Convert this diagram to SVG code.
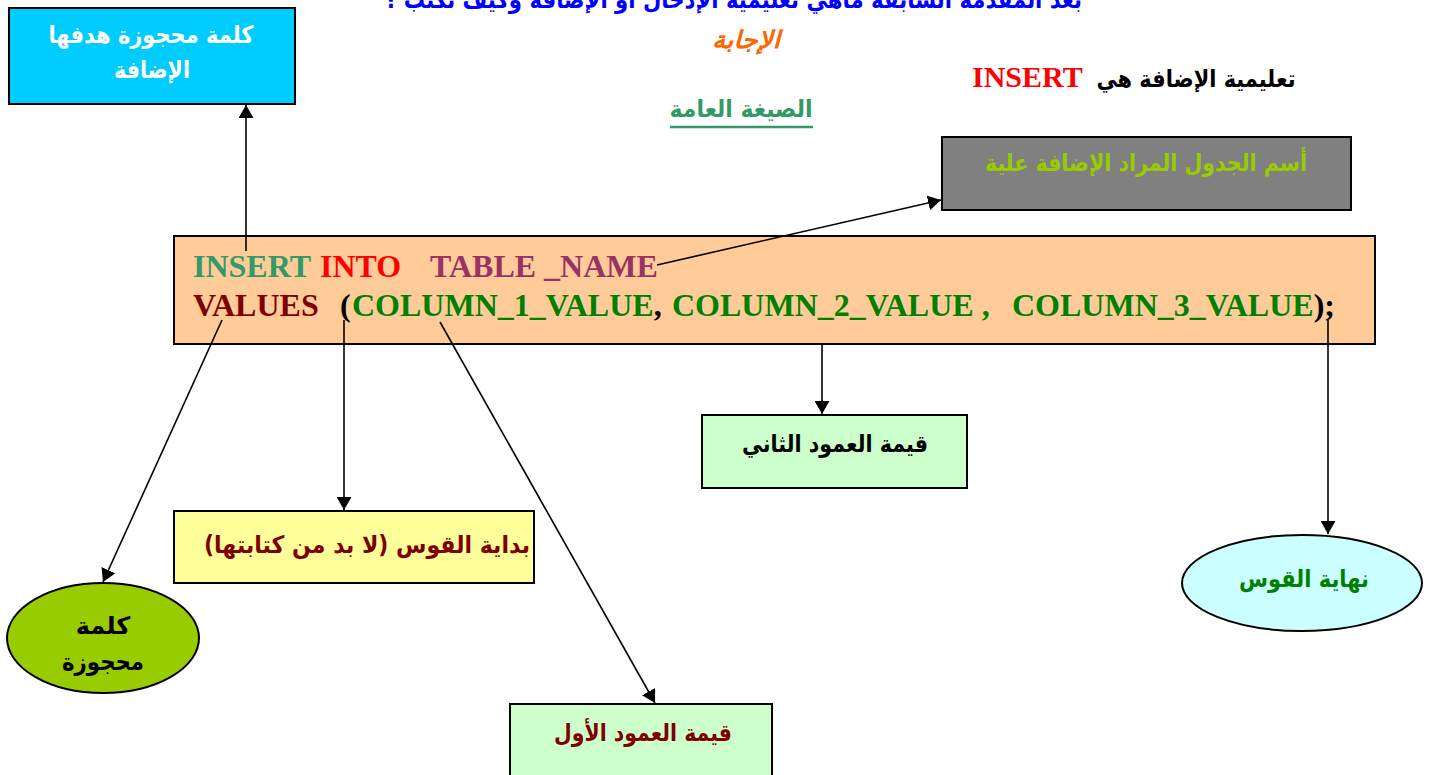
<svg xmlns="http://www.w3.org/2000/svg" width="1436" height="775" viewBox="0 0 1436 775">
  <defs>
    <marker id="arrow" viewBox="0 0 13 15" refX="13" refY="7.5" markerWidth="13" markerHeight="15" markerUnits="userSpaceOnUse" orient="auto">
      <path d="M0,0 L13,7.5 L0,15 z" fill="#000"/>
    </marker>
    <style>
      .ar { font-family: "DejaVu Sans", "Noto Sans", sans-serif; font-weight: bold; direction: rtl; unicode-bidi: embed; text-anchor: middle; }
      .code { font-family: "Liberation Serif", "Times New Roman", serif; font-weight: bold; font-size: 32px; }
      .box { stroke: #000; stroke-width: 2; }
      .conn { stroke: #000; stroke-width: 1.6; fill: none; marker-end: url(#arrow); }
    </style>
  </defs>
  <rect width="1436" height="775" fill="#fff"/>

  <!-- heading lines -->
  <g id="title">
    <text class="ar" x="733" y="8" font-size="25" fill="#0000FF" textLength="698" lengthAdjust="spacingAndGlyphs">بعد المقدمة السابقة ماهي تعليمية الإدخال أو الإضافة وكيف تكتب ؟</text>
    <text class="ar" x="746" y="48" font-size="24" fill="#FF6600" font-style="italic" textLength="68" lengthAdjust="spacingAndGlyphs">الإجابة</text>
  </g>
  <g id="insert-note">
    <text class="ar" x="1196" y="87" font-size="24" fill="#000" textLength="199" lengthAdjust="spacingAndGlyphs">تعليمية الإضافة هي</text>
    <text class="code" x="972" y="87" fill="#FF0000" style="font-size:30px">INSERT</text>
  </g>
  <g id="syntax-label">
    <text class="ar" x="741" y="117" font-size="24" fill="#339966" textLength="143" lengthAdjust="spacingAndGlyphs">الصيغة العامة</text>
    <line x1="670" y1="127" x2="813" y2="127" stroke="#339966" stroke-width="2.5"/>
  </g>

  <!-- nodes -->
  <g id="keyword-purpose">
    <rect class="box" x="9" y="8" width="286" height="96" fill="#00CCFF"/>
    <text class="ar" x="151" y="43" font-size="24" fill="#fff" textLength="205" lengthAdjust="spacingAndGlyphs">كلمة محجوزة هدفها</text>
    <text class="ar" x="152" y="78" font-size="24" fill="#fff" textLength="76" lengthAdjust="spacingAndGlyphs">الإضافة</text>
  </g>

  <g id="table-name-note">
    <rect class="box" x="942" y="137" width="409" height="73" fill="#808080"/>
    <text class="ar" x="1146" y="171" font-size="24" fill="#99CC00" textLength="322" lengthAdjust="spacingAndGlyphs">أسم الجدول المراد الإضافة علية</text>
  </g>

  <g id="statement">
    <rect class="box" x="174" y="236" width="1201" height="108" fill="#FFCC99"/>
    <text class="code" y="277"><tspan x="193" fill="#339966">INSERT</tspan><tspan x="320" fill="#FF0000">INTO</tspan><tspan x="430" fill="#993366">TABLE _NAME</tspan></text>
    <text class="code" y="316"><tspan x="193" fill="#800000">VALUES</tspan><tspan x="340" fill="#000">(</tspan><tspan x="352" fill="#008000">COLUMN_1_VALUE</tspan><tspan fill="#000">,</tspan><tspan x="672" fill="#008000">COLUMN_2_VALUE ,</tspan><tspan x="1012" fill="#008000">COLUMN_3_VALUE</tspan><tspan fill="#000">);</tspan></text>
  </g>

  <g id="reserved-word">
    <ellipse class="box" cx="103" cy="638" rx="96" ry="55" fill="#99CC00"/>
    <text class="ar" x="103" y="634" font-size="24" fill="#000">كلمة</text>
    <text class="ar" x="103" y="670" font-size="24" fill="#000" textLength="82" lengthAdjust="spacingAndGlyphs">محجوزة</text>
  </g>

  <g id="open-paren">
    <rect class="box" x="174" y="511" width="360" height="72" fill="#FFFF99"/>
    <text class="ar" x="367" y="553" font-size="24" fill="#800000" textLength="326" lengthAdjust="spacingAndGlyphs">بداية القوس (لا بد من كتابتها)</text>
  </g>

  <g id="first-column">
    <rect class="box" x="510" y="704" width="262" height="80" fill="#CCFFCC"/>
    <text class="ar" x="643" y="741" font-size="24" fill="#800000" textLength="178" lengthAdjust="spacingAndGlyphs">قيمة العمود الأول</text>
  </g>

  <g id="second-column">
    <rect class="box" x="702" y="415" width="265" height="73" fill="#CCFFCC"/>
    <text class="ar" x="835" y="452" font-size="24" fill="#000" textLength="186" lengthAdjust="spacingAndGlyphs">قيمة العمود الثاني</text>
  </g>

  <g id="close-paren">
    <ellipse class="box" cx="1302" cy="583" rx="120" ry="48" fill="#CCFFFF"/>
    <text class="ar" x="1304" y="587" font-size="24" fill="#008000" textLength="130" lengthAdjust="spacingAndGlyphs">نهاية القوس</text>
  </g>

  <!-- connectors, drawn over the nodes they start from -->
  <g id="connectors">
    <line class="conn" x1="246" y1="251" x2="246" y2="105"/>
    <line class="conn" x1="657" y1="265" x2="941" y2="200"/>
    <line class="conn" x1="222" y1="320" x2="103" y2="582"/>
    <line class="conn" x1="344" y1="320" x2="344" y2="510"/>
    <line class="conn" x1="440" y1="322" x2="655" y2="703"/>
    <line class="conn" x1="822" y1="345" x2="822" y2="414"/>
    <line class="conn" x1="1328" y1="320" x2="1328" y2="534"/>
  </g>
</svg>
